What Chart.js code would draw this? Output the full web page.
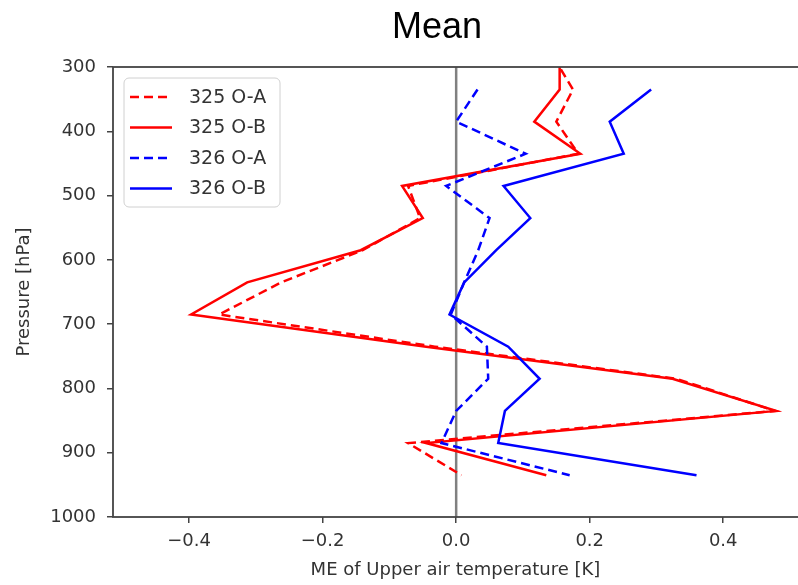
<!DOCTYPE html>
<html>
<head>
<meta charset="utf-8">
<script src="https://cdn.jsdelivr.net/npm/chart.js@4"></script>
<style>
  html, body { margin: 0; padding: 0; background: #fff; }
  #wrap { width: 798px; height: 585px; }
</style>
</head>
<body>
<div id="wrap"><canvas id="meanProfile" width="798" height="585"></canvas></div>
<script>
// pressure levels [hPa] and mean errors [K]
const levels  = [285, 335, 385, 435, 485, 535, 585, 635, 685, 735, 785, 835, 885, 935];
const oa325   = [0.146, 0.175, 0.150, 0.183, -0.072, -0.054, -0.140, -0.262, -0.355, -0.032, 0.330, 0.478, -0.072, 0.008];
const ob325   = [0.155, 0.155, 0.117, 0.186, -0.081, -0.050, -0.143, -0.313, -0.397, -0.045, 0.324, 0.479, -0.045, 0.135];
const oa326   = [null, 0.032, 0.000, 0.104, -0.015, 0.050, 0.033, 0.012, -0.008, 0.046, 0.048, 0.000, -0.022, 0.170];
const ob326   = [null, 0.292, 0.230, 0.251, 0.071, 0.111, 0.060, 0.012, -0.010, 0.078, 0.125, 0.073, 0.063, 0.360];
const xTicks  = [-0.4, -0.2, 0.0, 0.2, 0.4];
const yTicks  = [300, 400, 500, 600, 700, 800, 900, 1000];
const zeroLine = [300, 1000];

function profile(values) {
  const pts = [];
  values.forEach((v, i) => { if (v !== null) pts.push({x: v, y: levels[i]}); });
  return pts;
}

const fontFamily = "'DejaVu Sans', sans-serif";

// frame, title and the legend box inside the axes
const decor = {
  id: 'decor',
  afterDraw(chart) {
    const ctx = chart.ctx;
    const a = chart.chartArea;
    ctx.save();
    ctx.strokeStyle = '#444';
    ctx.lineWidth = 1.8;
    ctx.strokeRect(a.left, a.top, a.right - a.left + 2, a.bottom - a.top);

    ctx.fillStyle = '#000';
    ctx.font = "36px 'Liberation Sans', Arial, sans-serif";
    ctx.textAlign = 'center';
    ctx.textBaseline = 'middle';
    ctx.fillText('Mean', 437, 28);

    // legend
    const bx = a.left + 11, by = a.top + 11, bw = 156, bh = 129, r = 5;
    ctx.beginPath();
    ctx.moveTo(bx + r, by);
    ctx.arcTo(bx + bw, by, bx + bw, by + bh, r);
    ctx.arcTo(bx + bw, by + bh, bx, by + bh, r);
    ctx.arcTo(bx, by + bh, bx, by, r);
    ctx.arcTo(bx, by, bx + bw, by, r);
    ctx.closePath();
    ctx.fillStyle = 'rgba(255,255,255,0.85)';
    ctx.fill();
    ctx.strokeStyle = '#d0d0d0';
    ctx.lineWidth = 1;
    ctx.stroke();

    ctx.font = '19px ' + fontFamily;
    ctx.textAlign = 'left';
    const items = chart.data.datasets.filter(d => d.label);
    items.forEach((d, i) => {
      const y = by + 19 + i * 30.5;
      ctx.beginPath();
      ctx.setLineDash(d.borderDash || []);
      ctx.strokeStyle = d.borderColor;
      ctx.lineWidth = d.borderWidth;
      ctx.moveTo(bx + 6, y);
      ctx.lineTo(bx + 48, y);
      ctx.stroke();
      ctx.setLineDash([]);
      ctx.fillStyle = '#333';
      ctx.fillText(d.label, bx + 65, y + 1);
    });
    ctx.restore();
  }
};

new Chart(document.getElementById('meanProfile').getContext('2d'), {
  type: 'scatter',
  data: {
    datasets: [
      {
        label: '325 O-A', data: profile(oa325), showLine: true,
        borderColor: '#ff0000', borderWidth: 2.5, borderDash: [9, 5],
        pointRadius: 0, order: 4
      },
      {
        label: '325 O-B', data: profile(ob325), showLine: true,
        borderColor: '#ff0000', borderWidth: 2.5,
        pointRadius: 0, order: 3
      },
      {
        label: '326 O-A', data: profile(oa326), showLine: true,
        borderColor: '#0000ff', borderWidth: 2.5, borderDash: [9, 5],
        pointRadius: 0, order: 2
      },
      {
        label: '326 O-B', data: profile(ob326), showLine: true,
        borderColor: '#0000ff', borderWidth: 2.5,
        pointRadius: 0, order: 1
      },
      {
        label: '', data: zeroLine.map(p => ({x: 0, y: p})), showLine: true,
        borderColor: '#808080', borderWidth: 2.5,
        pointRadius: 0, order: 10
      }
    ]
  },
  options: {
    responsive: false,
    animation: false,
    layout: { padding: { top: 67, left: 0, right: 0, bottom: 0 } },
    plugins: {
      legend: { display: false },
      tooltip: { enabled: false }
    },
    scales: {
      x: {
        type: 'linear',
        min: -0.514,
        max: 0.512,
        afterBuildTicks(scale) { scale.ticks = xTicks.map(v => ({value: v})); },
        afterFit(scale) { scale.height = 68; },
        ticks: {
          color: '#333',
          font: { family: fontFamily, size: 18 },
          padding: 8,
          callback: v => (v < 0 ? '\u2212' : '') + Math.abs(v).toFixed(1)
        },
        grid: { drawOnChartArea: false, drawTicks: true, tickLength: 6, color: '#444', lineWidth: 1.5 },
        border: { display: false },
        title: {
          display: true,
          text: 'ME of Upper air temperature [K]',
          color: '#333',
          font: { family: fontFamily, size: 18 },
          padding: { top: 0, bottom: 4 }
        }
      },
      y: {
        type: 'linear',
        reverse: true,
        min: 300,
        max: 1000,
        afterBuildTicks(scale) { scale.ticks = yTicks.map(v => ({value: v})); },
        afterFit(scale) { scale.width = 113; },
        ticks: {
          color: '#333',
          font: { family: fontFamily, size: 18 },
          padding: 11,
          callback: v => String(v)
        },
        grid: { drawOnChartArea: false, drawTicks: true, tickLength: 6, color: '#444', lineWidth: 1.5 },
        border: { display: false },
        title: {
          display: true,
          text: 'Pressure [hPa]',
          color: '#333',
          font: { family: fontFamily, size: 18 },
          padding: { top: 14, bottom: 0 }
        }
      }
    }
  },
  plugins: [decor]
});
</script>
</body>
</html>
